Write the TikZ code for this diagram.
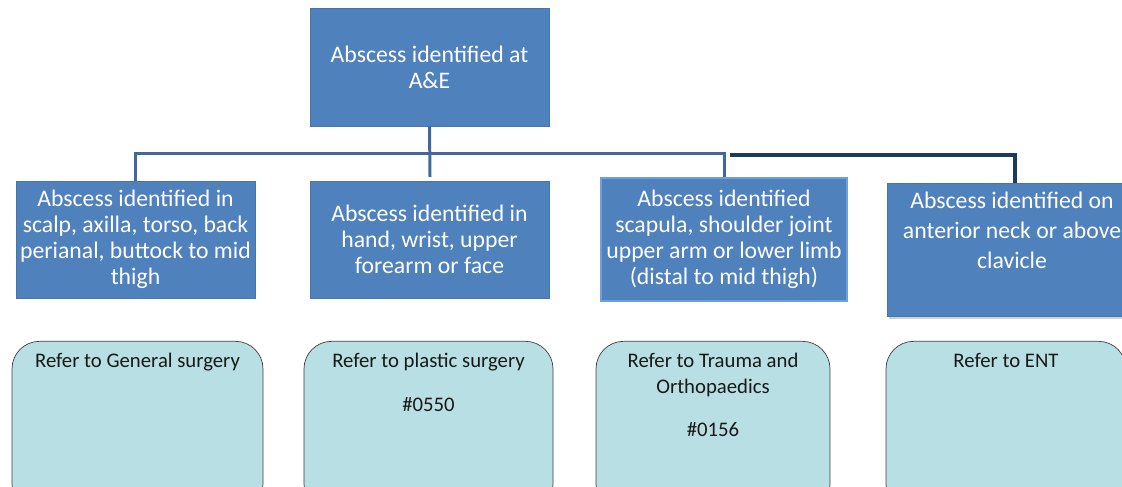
\documentclass[tikz,border=0pt]{standalone}
\usepackage{fontspec}
\setmainfont{Carlito}
\usetikzlibrary{shadows}
\definecolor{boxblue}{HTML}{4F81BD}
\definecolor{boxedge}{HTML}{4675AE}
\definecolor{paleedge}{HTML}{6E9FDB}
\definecolor{referfill}{HTML}{B8DFE3}
\definecolor{referedge}{HTML}{3F3F3F}
\definecolor{linkblue}{HTML}{41689A}
\definecolor{linknavy}{HTML}{1F3A5F}

\begin{document}
\begin{tikzpicture}[
    area/.style={rectangle, draw=boxedge, fill=boxblue, text=white, align=center,
        font=\fontsize{13.5}{14.8}\selectfont, inner sep=0pt},
    refer/.style={rectangle, rounded corners=0.55cm, draw=referedge, fill=referfill,
        minimum height=3.4cm, anchor=north},
    refertext/.style={anchor=north, yshift=-0.24cm, inner sep=0pt, align=center,
        text=black!90, font=\fontsize{11.8}{14.7}\selectfont},
    link/.style={draw=linkblue, line width=1.7pt},
    darklink/.style={draw=linknavy, line width=2.2pt}
]
    \useasboundingbox (0, 0) rectangle (22.44, 9.74);
    \clip (0, 0) rectangle (22.44, 9.74);

    % area boxes
    \node[area, minimum width=4.78cm, minimum height=2.36cm] (ae)
        at (8.59, 8.40) {Abscess identified at\\A\&E};
    \node[area, minimum width=4.78cm, minimum height=2.34cm] (torso)
        at (2.71, 4.95) {Abscess identified in\\scalp, axilla, torso, back\\perianal, buttock to mid\\thigh};
    \node[area, minimum width=4.78cm, minimum height=2.34cm] (hand)
        at (8.59, 4.95) {Abscess identified in\\hand, wrist, upper\\forearm or face};
    \node[area, draw=paleedge, line width=1pt, minimum width=4.92cm, minimum height=2.46cm] (limb)
        at (14.48, 4.95) {Abscess identified\\scapula, shoulder joint\\upper arm or lower limb\\(distal to mid thigh)};
    \node[area, font=\fontsize{13.5}{17}\selectfont, minimum width=5.0cm, minimum height=2.66cm,
        drop shadow={shadow xshift=1pt, shadow yshift=-1.5pt, fill=gray!70}] (neck)
        at (20.24, 4.75) {Abscess identified on\\anterior neck or above\\clavicle\\[5pt]\mbox{}};

    % referral boxes
    \node[refer, minimum width=5.02cm,
        label={[refertext]north:{Refer to General surgery}}] (gensurg)
        at (2.75, 2.92) {};
    \node[refer, minimum width=4.98cm,
        label={[refertext]north:{Refer to plastic surgery\\[10pt]\#0550}}] (plastic)
        at (8.57, 2.92) {};
    \node[refer, minimum width=4.68cm,
        label={[refertext]north:{Refer to Trauma and\\Orthopaedics\\[10pt]\#0156}}] (ortho)
        at (14.26, 2.92) {};
    \node[refer, minimum width=4.8cm,
        label={[refertext]north:{Refer to ENT}}] (ent)
        at (20.12, 2.92) {};

    % connectors
    \coordinate (hub) at (8.60, 6.20);
    \coordinate (bus) at (8.60, 6.66);
    \coordinate (busend) at (14.60, 6.64);
    \draw[link] (ae.south) -- (hub);
    \draw[link] (torso.north) |- (bus) -| (limb.north);
    \draw[darklink] (busend) -| ([xshift=0.06cm]neck.north);
\end{tikzpicture}
\end{document}
